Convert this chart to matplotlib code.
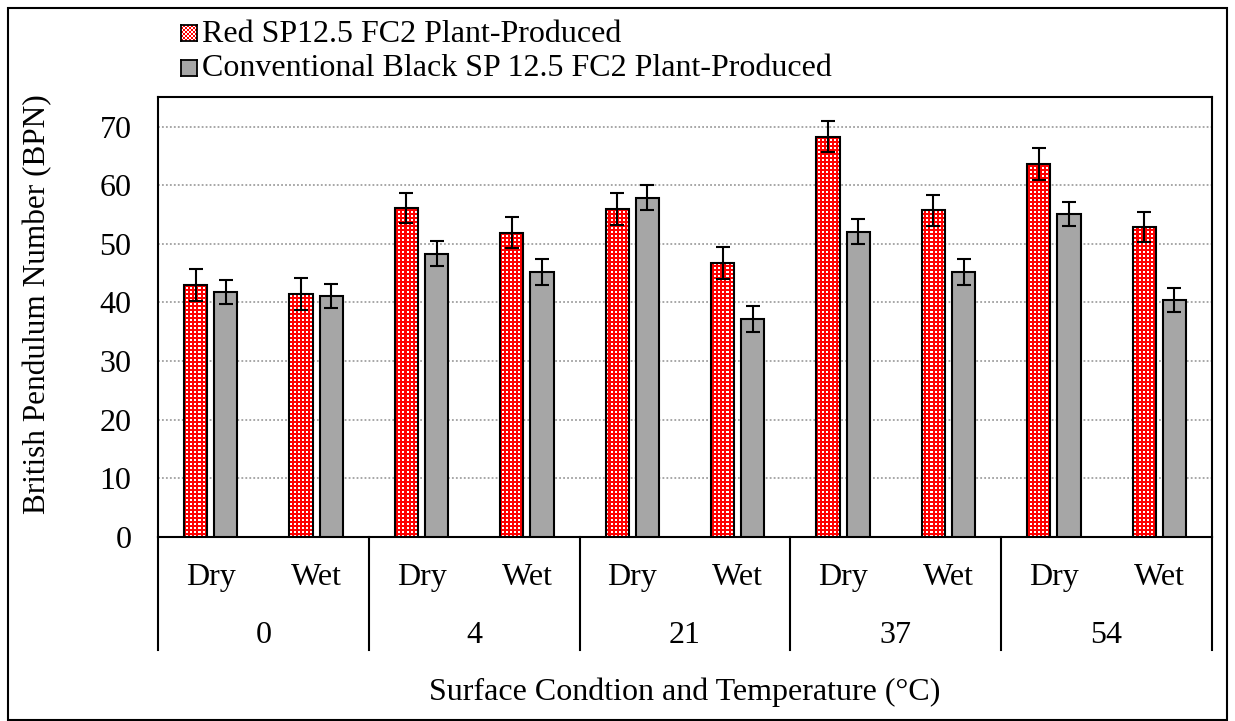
import numpy as np
import matplotlib
matplotlib.use('Agg')
import matplotlib.pyplot as plt
from matplotlib.colors import ListedColormap
from matplotlib.patches import Rectangle
import matplotlib.transforms as mtransforms

# ---- data ----
temperatures = ['0', '4', '21', '37', '54']
conditions = ['Dry', 'Wet']
series_names = ['Red SP12.5 FC2 Plant-Produced',
                'Conventional Black SP 12.5 FC2 Plant-Produced']
red_values = [43.0, 41.4, 56.1, 51.9, 55.9, 46.7, 68.3, 55.7, 63.6, 52.9]
red_errors = [2.7, 2.7, 2.6, 2.6, 2.7, 2.7, 2.7, 2.7, 2.7, 2.6]
black_values = [41.8, 41.1, 48.3, 45.2, 57.9, 37.2, 52.1, 45.2, 55.1, 40.4]
black_errors = [2.1, 2.0, 2.1, 2.2, 2.1, 2.2, 2.2, 2.2, 2.1, 2.1]
y_ticks = [0, 10, 20, 30, 40, 50, 60, 70]

plt.rcParams['font.family'] = ['Liberation Serif', 'DejaVu Serif']
FS = 23
GRAY = '#A6A6A6'
RED = '#FF0000'

W, H = 1235, 721
fig = plt.figure(figsize=(W / 100, H / 100), dpi=100)
ax_left, ax_right, ax_top, ax_bot = 158, 1212, 97.4, 536.7
ax = fig.add_axes([ax_left / W, 1 - ax_bot / H, (ax_right - ax_left) / W, (ax_bot - ax_top) / H])

n = len(red_values)
x = np.arange(n)
bw = 0.22
off = 0.143
ax.set_xlim(-0.5, n - 0.5)
ax.set_ylim(0, 75)

cmap = ListedColormap(['white', RED])
# pattern: 2-pixel cells, red with a regular grid of white dots
ny, nx = 220, 527
yy, xx = np.indices((ny, nx))
pattern = np.where((yy % 2 == 0) & (xx % 2 == 0), 0.0, 1.0)

red_bars = ax.bar(x - off, red_values, bw, color='none', edgecolor='black', linewidth=1.5, zorder=4)
for b in red_bars:
    im = ax.imshow(pattern, cmap=cmap, vmin=0, vmax=1, extent=(-0.5, n - 0.5, 0, 75),
                   origin='lower', interpolation='nearest', aspect='auto', zorder=3)
    im.set_clip_path(b)
ax.errorbar(x - off, red_values, yerr=red_errors, fmt='none', ecolor='black',
            elinewidth=1.5, capsize=5, capthick=1.5, zorder=5)
ax.bar(x + off, black_values, bw, color=GRAY, edgecolor='black', linewidth=1.5, zorder=4)
ax.errorbar(x + off, black_values, yerr=black_errors, fmt='none', ecolor='black',
            elinewidth=1.5, capsize=5, capthick=1.5, zorder=5)

ax.set_yticks(y_ticks)
ax.set_yticklabels([str(t) for t in y_ticks], fontsize=FS)
ax.tick_params(axis='y', length=0, pad=19)
ax.set_xticks([])
for t in y_ticks[1:]:
    ax.axhline(t, color='#A0A0A0', linestyle=(0, (1, 1.2)), linewidth=1.3, zorder=1)
for s in ax.spines.values():
    s.set_color('black')
    s.set_linewidth(1.5)

# category labels
trans = mtransforms.blended_transform_factory(ax.transData, ax.transAxes)
for i in range(n):
    ax.text(x[i], -0.094, conditions[i % 2], transform=trans, ha='center', va='center',
            fontsize=FS, clip_on=False)
for g, t in enumerate(temperatures):
    ax.text(2 * g + 0.5, -0.226, t, transform=trans, ha='center', va='center',
            fontsize=FS, clip_on=False)
for k in range(len(temperatures) + 1):
    ax.plot([2 * k - 0.5, 2 * k - 0.5], [0, -0.258], transform=trans, color='black',
            linewidth=1.5, clip_on=False)

fig.text(((ax_left + ax_right) / 2) / W, 1 - 692 / H, 'Surface Condtion and Temperature (°C)',
         ha='center', va='center', fontsize=FS)
fig.text(38 / W, 1 - 304 / H, 'British Pendulum Number (BPN)',
         ha='center', va='center', rotation=90, fontsize=22.5)

# legend (manual)
def marker_axes(px, py, size=16):
    a = fig.add_axes([px / W, 1 - (py + size) / H, size / W, size / H])
    a.set_xticks([]); a.set_yticks([])
    for s in a.spines.values():
        s.set_linewidth(1.3)
    return a

m1 = marker_axes(181, 25)
cy, cx = np.indices((8, 8))
m1.imshow(((cy + cx) % 2).astype(float), cmap=cmap, vmin=0, vmax=1,
          interpolation='nearest', aspect='auto')
m2 = marker_axes(181, 60)
m2.set_facecolor(GRAY)
fig.text(202 / W, 1 - 34 / H, series_names[0], ha='left', va='center', fontsize=FS)
fig.text(202 / W, 1 - 69 / H, series_names[1], ha='left', va='center', fontsize=FS)

# outer border
fig.patches.append(Rectangle((8 / W, 1 / H), (1227 - 8) / W, (720 - 8) / H,
                             transform=fig.transFigure, fill=False, edgecolor='black',
                             linewidth=1.5))

fig.savefig('out.png', dpi=100)
